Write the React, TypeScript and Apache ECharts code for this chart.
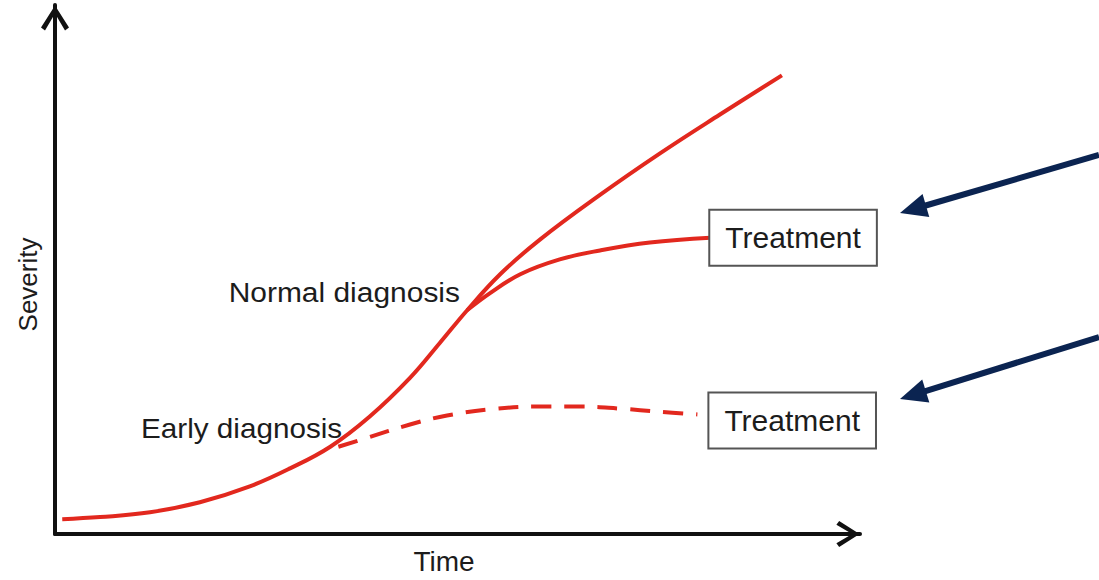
import React, { useEffect, useRef } from "react";
import * as echarts from "echarts";

// Main disease course (no treatment)
const timeMain = [0.9, 5.6, 11.8, 18.0, 24.2, 29.2, 34.2, 39.1, 44.1, 47.8, 51.2, 55.3, 60.2, 67.7, 75.2, 82.6, 90.3];
const severityMain = [2.8, 3.2, 4.1, 6.0, 9.0, 12.4, 16.5, 22.2, 29.5, 36.1, 42.3, 49.1, 55.6, 64.1, 72.0, 79.3, 86.7];

// Treatment after normal diagnosis
const timeNormalTreat = [51.2, 54.0, 57.8, 62.7, 67.7, 73.9, 81.4];
const severityNormalTreat = [42.3, 45.5, 49.1, 51.9, 53.6, 55.1, 56.0];

// Treatment after early diagnosis
const timeEarlyTreat = [35.2, 38.8, 44.1, 48.7, 54.9, 60.2, 65.2, 70.2, 75.2, 79.8];
const severityEarlyTreat = [16.5, 18.2, 20.7, 22.4, 23.7, 24.1, 24.1, 23.7, 23.1, 22.6];

const axisNames = { x: "Time", y: "Severity" };
const treatmentLabel = "Treatment";
const annotations = { normal: "Normal diagnosis", early: "Early diagnosis" };

const zip = (xs: number[], ys: number[]) => xs.map((x, i) => [x, ys[i]]);

const FONT = "'Liberation Sans', Arial, sans-serif";
const RED = "#e2281e";
const NAVY = "#0b2451";
const TEXT = "#1c1c1c";

const chevron = "path://M0,22 L14,0 L28,22 L24,25 L14,8 L4,25 Z";

function arrow(tip: [number, number], tail: [number, number]) {
  const dx = tail[0] - tip[0];
  const dy = tail[1] - tip[1];
  const len = Math.sqrt(dx * dx + dy * dy);
  const ux = dx / len;
  const uy = dy / len;
  const headLen = 27;
  const half = 12;
  const bx = tip[0] + ux * headLen;
  const by = tip[1] + uy * headLen;
  const nx = -uy;
  const ny = ux;
  return [
    {
      type: "line",
      shape: { x1: bx - ux * 2, y1: by - uy * 2, x2: tail[0], y2: tail[1] },
      style: { stroke: NAVY, lineWidth: 6 },
    },
    {
      type: "polygon",
      shape: {
        points: [
          [tip[0], tip[1]],
          [bx + nx * half, by + ny * half],
          [bx - nx * half, by - ny * half],
        ],
      },
      style: { fill: NAVY },
    },
  ];
}

export default function App() {
  const ref = useRef<HTMLDivElement>(null);

  useEffect(() => {
    if (!ref.current) return;
    const chart = echarts.init(ref.current, null, { renderer: "svg" });

    const boxLabel = {
      show: true,
      formatter: treatmentLabel,
      backgroundColor: "#ffffff",
      borderColor: "#555555",
      borderWidth: 2,
      padding: [11, 15, 11, 15],
      fontSize: 30,
      lineHeight: 32,
      fontFamily: FONT,
      color: TEXT,
    };

    chart.setOption({
      animation: false,
      backgroundColor: "#ffffff",
      grid: { left: 55, right: 239, top: 5, bottom: 42, containLabel: false },
      xAxis: {
        type: "value",
        min: 0,
        max: 100,
        name: axisNames.x,
        nameLocation: "middle",
        nameGap: 13,
        nameTextStyle: {
          fontSize: 28,
          fontFamily: FONT,
          color: TEXT,
          verticalAlign: "top",
          padding: [0, 27, 0, 0],
        },
        axisLine: {
          show: true,
          symbol: ["none", chevron],
          symbolSize: [26, 24],
          symbolOffset: [0, -12],
          lineStyle: { color: "#111111", width: 4 },
        },
        axisTick: { show: false },
        axisLabel: { show: false },
        splitLine: { show: false },
      },
      yAxis: {
        type: "value",
        min: 0,
        max: 100,
        name: axisNames.y,
        nameLocation: "middle",
        nameGap: 14,
        nameRotate: 90,
        nameTextStyle: {
          fontSize: 26,
          fontFamily: FONT,
          color: TEXT,
          padding: [0, 30, 0, 0],
        },
        axisLine: {
          show: true,
          symbol: ["none", chevron],
          symbolSize: [28, 26],
          symbolOffset: [0, -13],
          lineStyle: { color: "#111111", width: 4 },
        },
        axisTick: { show: false },
        axisLabel: { show: false },
        splitLine: { show: false },
      },
      series: [
        {
          name: "No treatment",
          type: "line",
          data: zip(timeMain, severityMain),
          smooth: 0.4,
          showSymbol: false,
          symbol: "none",
          lineStyle: { color: RED, width: 4 },
          z: 3,
        },
        {
          name: "Treatment (normal diagnosis)",
          type: "line",
          data: zip(timeNormalTreat, severityNormalTreat),
          smooth: 0.4,
          showSymbol: false,
          symbol: "none",
          lineStyle: { color: RED, width: 4 },
          endLabel: { ...boxLabel, distance: 0 },
          z: 3,
        },
        {
          name: "Treatment (early diagnosis)",
          type: "line",
          data: zip(timeEarlyTreat, severityEarlyTreat),
          smooth: 0.4,
          showSymbol: false,
          symbol: "none",
          lineStyle: { color: RED, width: 4, type: [20, 13] },
          endLabel: { ...boxLabel, distance: 12, offset: [0, 6] },
          z: 3,
        },
      ],
      graphic: [
        {
          type: "text",
          x: 460,
          y: 292,
          scaleX: 1.07,
          style: {
            text: annotations.normal,
            fontSize: 28,
            fontFamily: FONT,
            fill: TEXT,
            textAlign: "right",
            textVerticalAlign: "middle",
          },
          z: 10,
        },
        {
          type: "text",
          x: 141,
          y: 428,
          scaleX: 1.06,
          style: {
            text: annotations.early,
            fontSize: 28,
            fontFamily: FONT,
            fill: TEXT,
            textAlign: "left",
            textVerticalAlign: "middle",
          },
          z: 10,
        },
        ...arrow([900, 213], [1099, 155]),
        ...arrow([900, 399], [1099, 337]),
      ],
    });

    return () => chart.dispose();
  }, []);

  return (
    <div
      ref={ref}
      style={{ position: "fixed", left: 0, top: 0, width: 1099, height: 580, background: "#fff" }}
    />
  );
}
